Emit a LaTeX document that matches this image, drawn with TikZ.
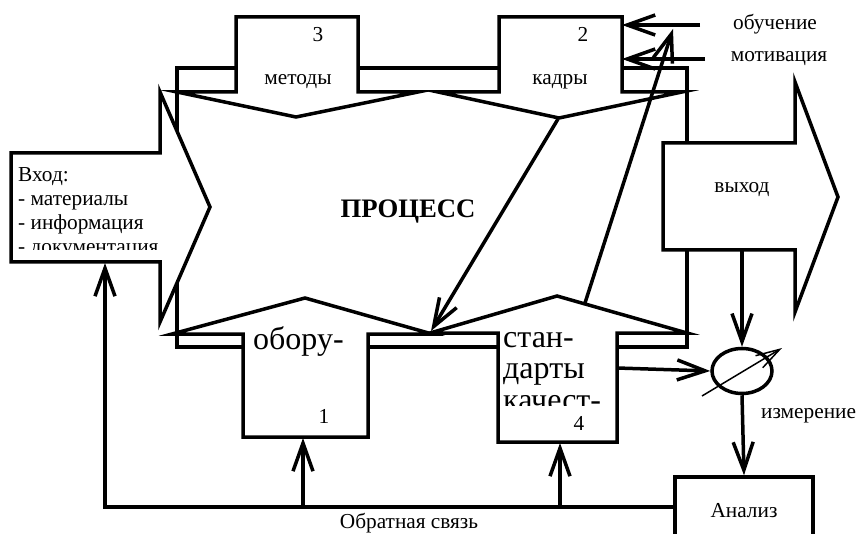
\documentclass[tikz,border=0pt]{standalone}
\usepackage{fontspec}
\setmainfont{Liberation Serif}
\usetikzlibrary{arrows.meta,shapes.geometric}
\tikzset{
  thickline/.style={line width=3.5pt},
  blockshape/.style={line width=3.5pt, fill=white, line join=miter},
  conn/.style={line width=3.5pt, -{Straight Barb[length=28pt,width=20pt]}},
  thinconn/.style={line width=1.5pt, -{Straight Barb[length=24pt,width=14pt]}},
  lbl/.style={inner sep=0pt, font=\fontsize{21.3}{23.7}\selectfont, anchor=base},
  lblw/.style={inner sep=0pt, font=\fontsize{21.3}{23.7}\selectfont, anchor=base west},
  big/.style={inner sep=0pt, font=\fontsize{32}{30.5}\selectfont, anchor=base west},
  title/.style={inner sep=0pt, font=\fontsize{26.7}{30}\selectfont\bfseries, anchor=base},
}
\begin{document}
\begin{tikzpicture}[x=1pt,y=-1pt]
\clip (0,0) rectangle (856,534);
\fill[white] (0,0) rectangle (856,534);
% process frame
\draw[thickline] (177,68) rectangle (687,347);
% input arrow
\draw[blockshape] (11,153) -- (160,153) -- (160,92) -- (210,207) -- (160,322) -- (160,262) -- (11,262) -- cycle;
% output arrow
\draw[blockshape] (663,143) -- (795,143) -- (795,82) -- (838,197) -- (795,312) -- (795,250) -- (663,250) -- cycle;
% methods (3)
\draw[blockshape] (236,92) -- (236,17) -- (358,17) -- (358,92) -- (418,92) -- (296,117) -- (177,92) -- cycle;
% staff (2)
\draw[blockshape] (499,92) -- (499,17) -- (622,17) -- (622,92) -- (682,92) -- (559,118) -- (438,92) -- cycle;
% equipment (1)
\draw[blockshape] (243,334) -- (243,437) -- (368,437) -- (368,334) -- (432,334) -- (305,298) -- (172,334) -- cycle;
% standards (4)
\draw[blockshape] (498,333) -- (498,442) -- (617,442) -- (617,333) -- (687,333) -- (557,296) -- (430,333) -- cycle;

% texts
\node[lblw] (in1) at (18,182) {Вход:};
\node[lblw] (in2) at (18,206) {- материалы};
\node[lblw] (in3) at (18,230) {- информация};
\begin{scope}
\clip (13,150) rectangle (158,249.5);
\node[lblw] (in4) at (18,254) {- документация};
\end{scope}
\node[title] (proc) at (408,218) {ПРОЦЕСС};
\node[lbl] (n3) at (318,42) {3};
\node[lbl] (met) at (298,85) {методы};
\node[lbl] (n2) at (583,42) {2};
\node[lbl] (kad) at (560,85) {кадры};
\node[lbl] (vyh) at (742,193) {выход};
\node[big] (obo) at (253,349) {обору-};
\node[lbl] (n1) at (324,423) {1};
\node[big] (st1) at (503,348) {стан-};
\node[big] (st2) at (503,378) {дарты};
\begin{scope}
\clip (500,380) rectangle (615,405.5);
\node[big] (st3) at (503,410) {качест-};
\end{scope}
\node[lbl] (n4) at (579,430) {4};
\node[lbl] (ob) at (775,30) {обучение};
\node[lbl] (mot) at (779,62) {мотивация};
\node[lblw] (izm) at (761,418) {измерение};
\node[lbl] (fb) at (409,528) {Обратная связь};

% measurement and analysis
\node[draw, ellipse, line width=3.5pt, minimum width=60pt, minimum height=45pt, inner sep=0pt] (meas) at (742,371) {};
\node[draw, line width=3.5pt, minimum width=138pt, minimum height=68pt, inner sep=0pt,
      font=\fontsize{21.3}{23.7}\selectfont] (an) at (744,511) {Анализ};

% coordinates
\coordinate (outB) at (742,250);
\coordinate (stR) at (617,368);
\coordinate (fbR) at (675,507);
\coordinate (inB) at (105,263);
\coordinate (eqB) at (303,438);
\coordinate (sdB) at (560,443);
\coordinate (fbEq) at (303,507);
\coordinate (fbSd) at (560,507);
\coordinate (obS) at (700,25);
\coordinate (motS) at (705,59);
\coordinate (kR1) at (622,25);
\coordinate (kR2) at (622,59);
\coordinate (kTip) at (558,119);
\coordinate (junc) at (431,331);
\coordinate (sdTop) at (585,303);
\coordinate (obTip) at (673,29);
\coordinate (mA) at (702,396);
\coordinate (mB) at (782,348);

% connectors
\draw[conn] (outB) -- (meas.north);
\draw[conn] (meas.south) -- (an.north);
\draw[conn] (stR) -- (meas.west);
\draw[conn] (fbR) -| (inB);
\draw[conn] (fbEq) -- (eqB);
\draw[conn] (fbSd) -- (sdB);
\draw[conn] (obS) -- (kR1);
\draw[conn] (motS) -- (kR2);
\draw[conn] (kTip) -- (junc);
\draw[conn] (sdTop) -- (obTip);
\draw[thinconn] (mA) -- (mB);
\end{tikzpicture}
\end{document}
